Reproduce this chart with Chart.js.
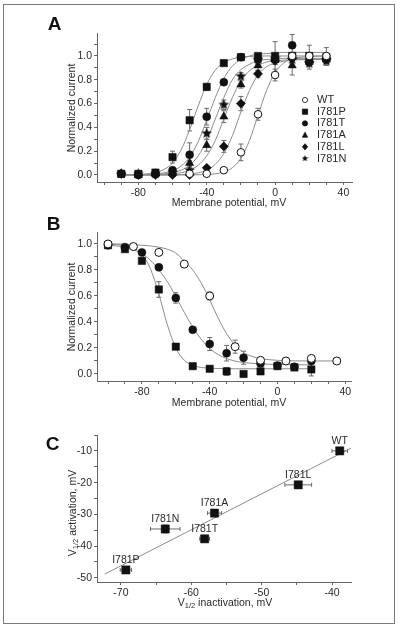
<!DOCTYPE html>
<html>
<head>
<meta charset="utf-8">
<script src="https://cdn.jsdelivr.net/npm/chart.js@4.4.1/dist/chart.umd.min.js"></script>
<style>
  body { margin: 0; background: #fff; }
  #page { position: relative; width: 400px; height: 627px; overflow: hidden; background: #fff; }
  #page canvas { position: absolute; left: 0; }
  #frame { position: absolute; left: 3px; top: 4px; width: 390px; height: 618px; border: 1.5px solid #7a7a7a; pointer-events: none; }
</style>
</head>
<body>
<div id="page">
  <canvas id="chartA" width="400" height="210" style="top:0px"></canvas>
  <canvas id="chartB" width="400" height="200" style="top:210px"></canvas>
  <canvas id="chartC" width="400" height="217" style="top:410px"></canvas>
  <div id="frame"></div>
</div>
<script>
// Panel A: activation, normalized current vs voltage
const actV = [-90, -80, -70, -60, -50, -40, -30, -20, -10, 0, 10, 20, 30];
const actVWT = [-50, -40, -30, -20, -10, 0, 10, 20, 30];
const actWT = [0.01, 0.01, 0.04, 0.19, 0.51, 0.84, 1.00, 1.00, 1.00];
const actP = [0.01, 0.01, 0.02, 0.15, 0.46, 0.74, 0.94, 0.99, 1.00, 1.00, 1.00, 1.00, 0.99];
const actT = [0.01, 0.00, 0.01, 0.04, 0.17, 0.49, 0.78, 0.99, 0.97, 0.97, 1.09, 0.95, 0.97];
const actA = [0.01, 0.00, 0.01, 0.03, 0.10, 0.25, 0.49, 0.76, 0.92, 0.97, 0.92, 0.95, 0.97];
const actL = [0.01, 0.00, 0.00, 0.00, 0.00, 0.06, 0.24, 0.60, 0.85, 0.96, 0.98, 0.95, 0.98];
const actN = [0.01, 0.01, 0.01, 0.02, 0.04, 0.35, 0.59, 0.83, 0.97, 0.98, 0.97, 0.94, 0.96];
const errWT = [0.01, 0.01, 0.02, 0.07, 0.05, 0.05, 0.03, 0.09, 0.07];
const errP = [0, 0, 0.01, 0.05, 0.09, 0.03, 0.01, 0.02, 0.02, 0.02, 0.02, 0.02, 0.02];
const errT = [0, 0, 0.01, 0.02, 0.10, 0.07, 0.02, 0.02, 0.04, 0.02, 0.09, 0.03, 0.02];
const errA = [0, 0, 0.01, 0.01, 0.02, 0.05, 0.05, 0.03, 0.04, 0.04, 0.08, 0.04, 0.03];
const errL = [0, 0, 0, 0, 0.01, 0.02, 0.05, 0.06, 0.03, 0.03, 0.03, 0.03, 0.03];
const errN = [0, 0, 0, 0.01, 0.02, 0.05, 0.04, 0.03, 0.05, 0.14, 0.05, 0.05, 0.04];

// fitted curves
const actFitV = [-90, -80, -70, -65, -60, -55, -50, -45, -40, -35, -30, -25, -20, -15, -10, -5, 0, 5, 10, 20, 30];
const fitWT = [0, 0, 0, 0, 0, 0.0003, 0.0007, 0.002, 0.004, 0.01, 0.026, 0.061, 0.14, 0.29, 0.50, 0.71, 0.86, 0.94, 0.975, 0.995, 1.0];
const fitP = [0, 0.004, 0.021, 0.047, 0.10, 0.21, 0.38, 0.58, 0.76, 0.88, 0.945, 0.975, 0.99, 0.995, 1.0, 1.0, 1.0, 1.0, 1.0, 1.0, 1.0];
const fitT = [0, 0.002, 0.008, 0.017, 0.036, 0.075, 0.15, 0.28, 0.46, 0.65, 0.81, 0.915, 0.97, 1.0, 1.015, 1.02, 1.025, 1.03, 1.03, 1.03, 1.03];
const fitA = [0, 0, 0.002, 0.004, 0.009, 0.019, 0.04, 0.082, 0.16, 0.29, 0.47, 0.65, 0.79, 0.875, 0.92, 0.95, 0.96, 0.965, 0.97, 0.97, 0.97];
const fitL = [0, 0, 0, 0, 0.0015, 0.003, 0.008, 0.018, 0.04, 0.09, 0.18, 0.33, 0.53, 0.71, 0.84, 0.91, 0.94, 0.955, 0.965, 0.97, 0.97];
const fitN = [0, 0.001, 0.004, 0.009, 0.019, 0.04, 0.083, 0.16, 0.29, 0.47, 0.65, 0.80, 0.885, 0.93, 0.96, 0.97, 0.975, 0.98, 0.98, 0.98, 0.98];

// Panel B: inactivation
const inactV = [-100, -90, -80, -70, -60, -50, -40, -30, -20, -10, 0, 10, 20];
const inactVWT = [-100, -85, -70, -55, -40, -25, -10, 5, 20, 35];
const inactWT = [1.00, 0.98, 0.935, 0.845, 0.60, 0.21, 0.105, 0.10, 0.12, 0.10];
const inactP = [0.99, 0.96, 0.87, 0.65, 0.21, 0.06, 0.04, 0.02, 0.00, 0.02, 0.06, 0.05, 0.035];
const inactT = [0.99, 0.975, 0.935, 0.82, 0.585, 0.34, 0.23, 0.16, 0.125, 0.08, 0.065, 0.055, 0.10];
const ierrWT = [0.01, 0.01, 0.01, 0.01, 0.03, 0.05, 0.02, 0.01, 0.02, 0.01];
const ierrP = [0.01, 0.01, 0.02, 0.06, 0.01, 0.01, 0.01, 0.03, 0.02, 0.02, 0.01, 0.01, 0.05];
const ierrT = [0.01, 0.01, 0.01, 0.02, 0.04, 0.01, 0.05, 0.06, 0.05, 0.02, 0.01, 0.02, 0.02];
const inactFitV = [-100, -95, -90, -85, -80, -75, -70, -65, -60, -55, -50, -45, -40, -35, -30, -25, -20, -15, -10, -5, 0, 5, 10, 20, 35];
const ifitWT = [1.0, 1.0, 0.999, 0.995, 0.99, 0.985, 0.975, 0.96, 0.93, 0.87, 0.80, 0.70, 0.57, 0.43, 0.31, 0.22, 0.165, 0.135, 0.118, 0.11, 0.105, 0.103, 0.101, 0.10, 0.10];
const ifitP = [0.998, 0.995, 0.988, 0.97, 0.92, 0.81, 0.615, 0.38, 0.20, 0.106, 0.066, 0.05, 0.045, 0.042, 0.041, 0.04, 0.04, 0.04, 0.04, 0.04, 0.04, 0.04, 0.04, 0.04, null];
const ifitT = [0.99, 0.985, 0.975, 0.955, 0.925, 0.875, 0.80, 0.71, 0.596, 0.474, 0.36, 0.267, 0.197, 0.149, 0.119, 0.099, 0.088, 0.082, 0.077, 0.075, 0.073, 0.072, 0.071, 0.07, null];

// Panel C: V1/2 activation vs V1/2 inactivation
const cNames = ['WT', 'I781L', 'I781A', 'I781N', 'I781T', 'I781P'];
const cInact = [-38.9, -44.8, -56.7, -63.7, -58.1, -69.3];
const cAct = [-10.0, -20.7, -29.6, -34.6, -37.7, -47.5];
const cInactErr = [1.1, 1.9, 1.0, 2.1, 0.7, 0.8];
const cActErr = [0.6, 0.8, 1.0, 1.2, 0.8, 0.6];
const cLineX = [-72.3, -37.0];
const cLineY = [-48.8, -8.8];

// tick positions
const mvTicks = [-100, -90, -80, -70, -60, -50, -40, -30, -20, -10, 0, 10, 20, 30, 40];
const mvMajor = [-80, -40, 0, 40];
const curTicksA = [0, 0.1, 0.2, 0.3, 0.4, 0.5, 0.6, 0.7, 0.8, 0.9, 1.0, 1.1];
const curTicksB = [0, 0.1, 0.2, 0.3, 0.4, 0.5, 0.6, 0.7, 0.8, 0.9, 1.0];
const curMajor = [0, 0.2, 0.4, 0.6, 0.8, 1.0];
const inTicks = [-70, -65, -60, -55, -50, -45, -40];
const inMajor = [-70, -60, -50, -40];
const acTicks = [-50, -45, -40, -35, -30, -25, -20, -15, -10, -5];
const acMajor = [-50, -40, -30, -20, -10];

const FONT = '"Liberation Sans", Arial, sans-serif';
const INK = '#111';
const TXT = '#2a2a2a';
const CURVE = '#8c8c8c';
const TICK_SIZE = 10.5;
const TITLE_SIZE = 10.5;
Chart.defaults.font.family = FONT;
Chart.defaults.color = TXT;

// five-pointed star used as point style
function makeStar(size) {
    const c = document.createElement('canvas');
    c.width = size;
    c.height = size;
    const g = c.getContext('2d');
    const R = size / 2, r = R * 0.45;
    g.beginPath();
    for (let i = 0; i < 10; i++) {
        const a = -Math.PI / 2 + i * Math.PI / 5;
        const rad = i % 2 ? r : R;
        g.lineTo(R + rad * Math.cos(a), R + rad * Math.sin(a));
    }
    g.closePath();
    g.fillStyle = INK;
    g.fill();
    return c;
}
const starBig = makeStar(11);
const starSmall = makeStar(7);

function pts(xs, ys) {
    const out = [];
    xs.forEach((x, i) => { if (ys[i] !== null) out.push({ x: x, y: ys[i] }); });
    return out;
}

function markerSet(label, xs, ys, err, style, radius, open) {
    return {
        label: label,
        data: pts(xs, ys),
        errY: err,
        showLine: false,
        pointStyle: style,
        pointRadius: radius,
        backgroundColor: open ? '#fff' : INK,
        borderColor: INK,
        borderWidth: open ? 1 : 0.5,
        order: 1
    };
}

function fitSet(xs, ys) {
    return {
        data: pts(xs, ys),
        showLine: true,
        pointRadius: 0,
        borderColor: CURVE,
        borderWidth: 1,
        cubicInterpolationMode: 'monotone',
        order: 2
    };
}

function makeAxis(min, max, ticks, major, digits, size) {
    return {
        type: 'linear',
        min: min,
        max: max,
        bounds: 'data',
        afterBuildTicks: function(scale) {
            scale.ticks = ticks.map(v => ({ value: v }));
        },
        afterFit: function(scale) {
            if (scale.isHorizontal()) scale.height = size; else scale.width = size;
        },
        ticks: {
            autoSkip: false,
            maxRotation: 0,
            padding: 2,
            color: TXT,
            font: { size: TICK_SIZE },
            callback: function(v) { return major.indexOf(v) >= 0 ? v.toFixed(digits) : ''; }
        },
        grid: {
            drawOnChartArea: false,
            tickLength: 3,
            tickColor: '#666'
        },
        border: { color: '#666', width: 1 }
    };
}

// error bars, drawn under the markers
const errorBars = {
    id: 'errorBars',
    beforeDatasetsDraw(chart) {
        const ctx = chart.ctx;
        const xs = chart.scales.x, ys = chart.scales.y;
        ctx.save();
        ctx.strokeStyle = '#6a6a6a';
        ctx.lineWidth = 1;
        chart.data.datasets.forEach(ds => {
            if (!ds.errY && !ds.errX) return;
            ds.data.forEach((p, j) => {
                const px = xs.getPixelForValue(p.x), py = ys.getPixelForValue(p.y);
                ctx.beginPath();
                if (ds.errY && ds.errY[j]) {
                    const t = ys.getPixelForValue(p.y + ds.errY[j]);
                    const b = ys.getPixelForValue(p.y - ds.errY[j]);
                    ctx.moveTo(px, t); ctx.lineTo(px, b);
                    ctx.moveTo(px - 2.5, t); ctx.lineTo(px + 2.5, t);
                    ctx.moveTo(px - 2.5, b); ctx.lineTo(px + 2.5, b);
                }
                if (ds.errX && ds.errX[j]) {
                    const l = xs.getPixelForValue(p.x - ds.errX[j]);
                    const r = xs.getPixelForValue(p.x + ds.errX[j]);
                    ctx.moveTo(l, py); ctx.lineTo(r, py);
                    ctx.moveTo(l, py - 2); ctx.lineTo(l, py + 2);
                    ctx.moveTo(r, py - 2); ctx.lineTo(r, py + 2);
                }
                ctx.stroke();
            });
        });
        ctx.restore();
    }
};
Chart.register(errorBars);

// text drawn with optional subscript parts
function drawParts(ctx, parts, x, y, angle) {
    ctx.save();
    ctx.translate(x, y);
    ctx.rotate(angle);
    let total = 0;
    parts.forEach(p => {
        ctx.font = (p.sub ? 7.5 : TITLE_SIZE) + 'px ' + FONT;
        total += ctx.measureText(p.t).width;
    });
    let cx = -total / 2;
    ctx.fillStyle = TXT;
    ctx.textBaseline = 'middle';
    ctx.textAlign = 'left';
    parts.forEach(p => {
        ctx.font = (p.sub ? 7.5 : TITLE_SIZE) + 'px ' + FONT;
        ctx.fillText(p.t, cx, p.sub ? 3 : 0);
        cx += ctx.measureText(p.t).width;
    });
    ctx.restore();
}

function decor(letter, lx, ly, xTitle, xx, xy, yTitle, yx, yy) {
    return {
        id: 'decor',
        afterDraw(chart) {
            const ctx = chart.ctx;
            ctx.save();
            ctx.fillStyle = INK;
            ctx.font = 'bold 19px ' + FONT;
            ctx.textAlign = 'center';
            ctx.textBaseline = 'alphabetic';
            ctx.fillText(letter, lx, ly);
            ctx.restore();
            drawParts(ctx, xTitle, xx, xy, 0);
            drawParts(ctx, yTitle, yx, yy, -Math.PI / 2);
        }
    };
}

// legend inside panel A
function drawMarker(ctx, style, x, y, r) {
    ctx.beginPath();
    if (style === 'circle') {
        ctx.arc(x, y, r, 0, Math.PI * 2);
    } else if (style === 'rect') {
        ctx.rect(x - r, y - r, 2 * r, 2 * r);
    } else if (style === 'triangle') {
        ctx.moveTo(x, y - r * 1.1);
        ctx.lineTo(x + r, y + r * 0.8);
        ctx.lineTo(x - r, y + r * 0.8);
        ctx.closePath();
    } else if (style === 'rectRot') {
        ctx.moveTo(x, y - r * 1.2);
        ctx.lineTo(x + r, y);
        ctx.lineTo(x, y + r * 1.2);
        ctx.lineTo(x - r, y);
        ctx.closePath();
    }
}

const legendA = {
    id: 'legendA',
    afterDraw(chart) {
        const ctx = chart.ctx;
        const rows = chart.data.datasets.filter(ds => ds.label);
        ctx.save();
        ctx.font = '11px ' + FONT;
        ctx.textBaseline = 'middle';
        ctx.textAlign = 'left';
        rows.forEach((ds, i) => {
            const y = 100 + i * 11.7;
            if (ds.pointStyle instanceof HTMLCanvasElement) {
                ctx.drawImage(starSmall, 305 - 3.5, y - 3.5);
            } else {
                drawMarker(ctx, ds.pointStyle, 305, y, 2.6);
                ctx.fillStyle = ds.backgroundColor;
                ctx.fill();
                ctx.strokeStyle = INK;
                ctx.lineWidth = 0.8;
                ctx.stroke();
            }
            ctx.fillStyle = TXT;
            ctx.fillText(ds.label, 317, y);
        });
        ctx.restore();
    }
};

// point labels in panel C
const labelsC = {
    id: 'labelsC',
    afterDatasetsDraw(chart) {
        const ctx = chart.ctx;
        const xs = chart.scales.x, ys = chart.scales.y;
        ctx.save();
        ctx.font = '10.5px ' + FONT;
        ctx.fillStyle = TXT;
        ctx.textAlign = 'center';
        ctx.textBaseline = 'alphabetic';
        chart.data.datasets.forEach(ds => {
            if (!ds.pointLabels) return;
            ds.data.forEach((p, j) => {
                ctx.fillText(ds.pointLabels[j], xs.getPixelForValue(p.x), ys.getPixelForValue(p.y) - 7);
            });
        });
        ctx.restore();
    }
};

const baseOptions = {
    responsive: false,
    animation: false,
    devicePixelRatio: 1,
    events: [],
    plugins: { legend: { display: false }, tooltip: { enabled: false } }
};

function opts(padding, xAxis, yAxis) {
    return Object.assign({}, baseOptions, {
        layout: { padding: padding },
        scales: { x: xAxis, y: yAxis }
    });
}

const mvTitle = [{ t: 'Membrane potential, mV' }];
const curTitle = [{ t: 'Normalized current' }];

// Panel A
new Chart(document.getElementById('chartA'), {
    type: 'scatter',
    data: {
        datasets: [
            markerSet('WT', actVWT, actWT, errWT, 'circle', 3.8, true),
            markerSet('I781P', actV, actP, errP, 'rect', 5.2, false),
            markerSet('I781T', actV, actT, errT, 'circle', 4, false),
            markerSet('I781A', actV, actA, errA, 'triangle', 4.8, false),
            markerSet('I781L', actV, actL, errL, 'rectRot', 4.6, false),
            markerSet('I781N', actV, actN, errN, starBig, 5, false),
            fitSet(actFitV, fitWT),
            fitSet(actFitV, fitP),
            fitSet(actFitV, fitT),
            fitSet(actFitV, fitA),
            fitSet(actFitV, fitL),
            fitSet(actFitV, fitN)
        ]
    },
    options: opts({ left: 0, top: 33, right: 48, bottom: 0 },
        makeAxis(-104.2, 45, mvTicks, mvMajor, 0, 28),
        makeAxis(-0.059, 1.193, curTicksA, curMajor, 1, 97)),
    plugins: [decor('A', 54.5, 30, mvTitle, 229, 203, curTitle, 72, 108), legendA]
});

// Panel B
new Chart(document.getElementById('chartB'), {
    type: 'scatter',
    data: {
        datasets: [
            markerSet('WT', inactVWT, inactWT, ierrWT, 'circle', 4, true),
            markerSet('I781T', inactV, inactT, ierrT, 'circle', 4, false),
            markerSet('I781P', inactV, inactP, ierrP, 'rect', 5.2, false),
            fitSet(inactFitV, ifitWT),
            fitSet(inactFitV, ifitP),
            fitSet(inactFitV, ifitT)
        ]
    },
    options: opts({ left: 0, top: 22, right: 49, bottom: 0 },
        makeAxis(-106.5, 43.4, mvTicks, mvMajor, 0, 29),
        makeAxis(-0.054, 1.092, curTicksB, curMajor, 1, 97)),
    plugins: [decor('B', 53.5, 20, mvTitle, 229, 193, curTitle, 72, 97)]
});

// Panel C
new Chart(document.getElementById('chartC'), {
    type: 'scatter',
    data: {
        datasets: [
            {
                data: pts(cInact, cAct),
                errX: cInactErr,
                errY: cActErr,
                pointLabels: cNames,
                pointStyle: 'rect',
                pointRadius: 5.8,
                backgroundColor: INK,
                borderColor: INK,
                borderWidth: 0.5,
                order: 1
            },
            {
                data: pts(cLineX, cLineY),
                showLine: true,
                pointRadius: 0,
                borderColor: CURVE,
                borderWidth: 1,
                order: 2
            }
        ]
    },
    options: opts({ left: 0, top: 25, right: 49, bottom: 0 },
        makeAxis(-73.4, -37.3, inTicks, inMajor, 0, 45),
        makeAxis(-51.3, -5, acTicks, acMajor, 0, 97)),
    plugins: [
        decor('C', 52.5, 40,
            [{ t: 'V' }, { t: '1/2', sub: true }, { t: ' inactivation, mV' }], 225, 193,
            [{ t: 'V' }, { t: '1/2', sub: true }, { t: ' activation, mV' }], 73, 103),
        labelsC
    ]
});
</script>
</body>
</html>
